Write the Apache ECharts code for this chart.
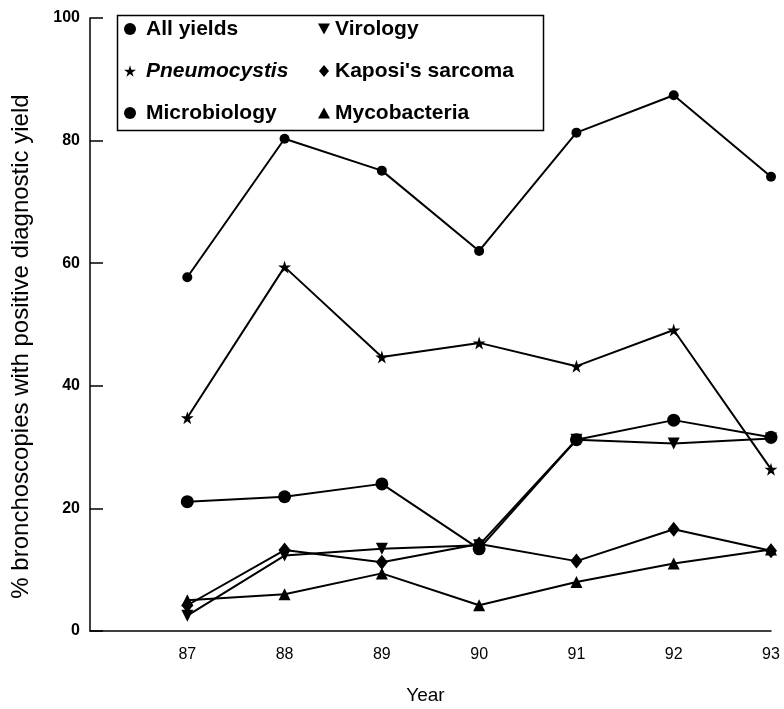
<!DOCTYPE html>
<html>
<head>
<meta charset="utf-8">
<script src="https://cdn.jsdelivr.net/npm/echarts@6/dist/echarts.min.js"></script>
<style>html,body{margin:0;padding:0;background:#fff}#c{width:784px;height:709px}</style>
</head>
<body>
<div id="c"></div>
<script>
var years = [87, 88, 89, 90, 91, 92, 93];
var allYields = [57.7, 80.3, 75.1, 62.0, 81.3, 87.4, 74.1];
var pneumocystis = [34.8, 59.4, 44.7, 47.0, 43.2, 49.1, 26.4];
var microbiology = [21.1, 21.9, 24.0, 13.4, 31.2, 34.4, 31.6];
var virology = [2.5, 12.3, 13.4, 14.0, 31.2, 30.6, 31.4];
var kaposi = [4.2, 13.2, 11.2, 14.2, 11.4, 16.6, 13.1];
var mycobacteria = [5.0, 6.0, 9.4, 4.2, 8.0, 11.0, 13.3];
var yTicks = [0, 20, 40, 60, 80, 100];

var STAR = 'path://M50,0 L61,35 L98,35 L68,57 L79,91 L50,70 L21,91 L32,57 L2,35 L39,35 Z';
var DOWN = 'path://M0,0 L10,0 L5,9 Z';
var UP = 'path://M5,0 L10,9 L0,9 Z';
var DIAMOND = 'path://M5,0 L10,6 L5,12 L0,6 Z';

function pts(arr){ return years.map(function(y,i){ return [y, arr[i]]; }); }
function line(name, arr, symbol, size){
  return {
    name: name, type: 'line', data: pts(arr), symbol: symbol, symbolSize: size,
    lineStyle: {color: '#000', width: 2}, itemStyle: {color: '#000'},
    showAllSymbol: true, animation: false, z: 3
  };
}
var FONT = '"Liberation Sans", Arial, sans-serif';
var chart = echarts.init(document.getElementById('c'), null, {renderer: 'canvas'});
function legendText(padLeft){
  return {fontFamily: FONT, fontSize: 21, fontWeight: 'bold', color: '#000', lineHeight: 22,
    padding: [0, 0, 0, padLeft],
    rich: {i: {fontStyle: 'italic', fontWeight: 'bold', fontFamily: FONT, fontSize: 21, color: '#000'}}};
}
function fmt(n){ return n === 'Pneumocystis' ? '{i|' + n + '}' : n; }
chart.setOption({
  backgroundColor: '#fff',
  animation: false,
  grid: {left: 90, right: 13, top: 18, bottom: 78, outerBoundsMode: 'none', containLabel: false},
  xAxis: {
    type: 'value', min: 86, max: 93, interval: 1,
    axisLine: {lineStyle: {color: '#000', width: 1.5}},
    axisTick: {show: false}, splitLine: {show: false},
    axisLabel: {margin: 16, color: '#000', fontFamily: FONT, fontSize: 16,
      formatter: function(v){ return years.indexOf(v) >= 0 ? String(v) : ''; }},
    name: 'Year', nameLocation: 'middle', nameGap: 55,
    nameTextStyle: {color: '#000', fontFamily: FONT, fontSize: 19, padding: [0, 10, 0, 0]}
  },
  yAxis: {
    type: 'value', min: 0, max: 100, interval: 20,
    axisLine: {show: true, lineStyle: {color: '#000', width: 1.5}},
    axisTick: {show: true, inside: true, length: 13, lineStyle: {color: '#000', width: 1.5}},
    splitLine: {show: false},
    axisLabel: {margin: 10, color: '#000', fontFamily: FONT, fontSize: 16, fontWeight: 'bold',
      formatter: function(v){ return yTicks.indexOf(v) >= 0 ? String(v) : ''; }},
    name: '% bronchoscopies with positive diagnostic yield', nameLocation: 'middle', nameGap: 57,
    nameTextStyle: {color: '#000', fontFamily: FONT, fontSize: 24, padding: [0, 44, 0, 0]}
  },
  legend: [
    {orient: 'vertical', left: 124, top: 18, padding: 0, itemGap: 20, itemWidth: 12, itemHeight: 12,
     formatter: fmt, textStyle: legendText(5), selectedMode: false,
     data: [{name: 'All yields', icon: 'circle'}, {name: 'Pneumocystis', icon: STAR}, {name: 'Microbiology', icon: 'circle'}]},
    {orient: 'vertical', left: 318, top: 18, padding: 0, itemGap: 20, itemWidth: 12, itemHeight: 12,
     formatter: fmt, textStyle: legendText(0), selectedMode: false,
     data: [{name: 'Virology', icon: DOWN}, {name: "Kaposi's sarcoma", icon: DIAMOND}, {name: 'Mycobacteria', icon: UP}]}
  ],
  graphic: [{type: 'rect', left: 115, top: 13, shape: {width: 426, height: 115},
    style: {fill: 'none', stroke: '#000', lineWidth: 1.5}, z: 10}],
  series: [
    line('All yields', allYields, 'circle', 10),
    line('Pneumocystis', pneumocystis, STAR, 13),
    line('Microbiology', microbiology, 'circle', 13),
    line('Virology', virology, DOWN, 12),
    line("Kaposi's sarcoma", kaposi, DIAMOND, [12, 15]),
    line('Mycobacteria', mycobacteria, UP, 12)
  ]
});
</script>
</body>
</html>
